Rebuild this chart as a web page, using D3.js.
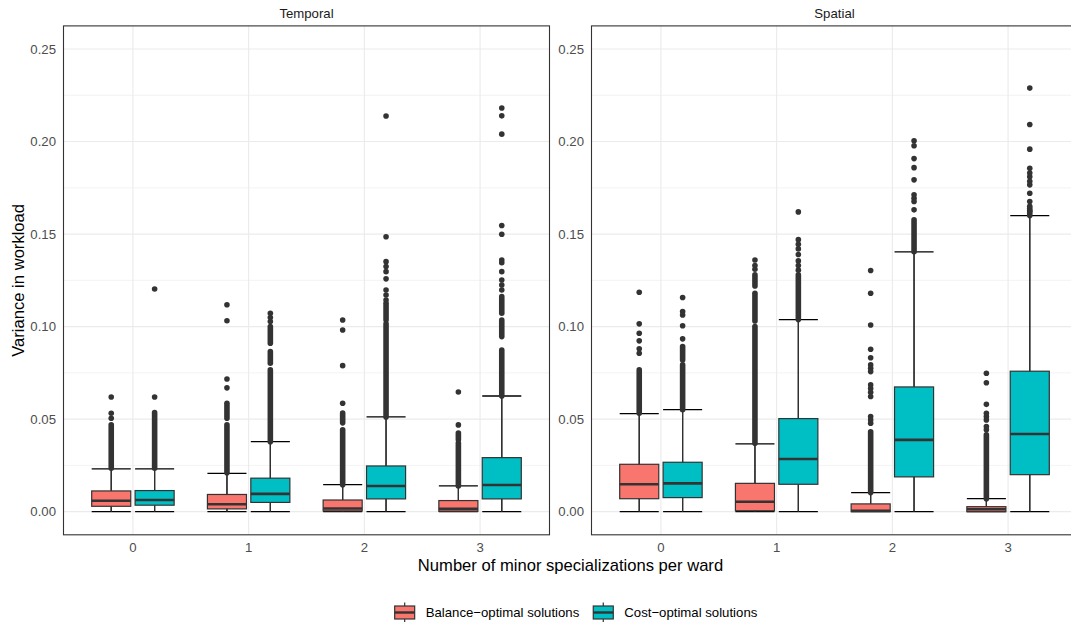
<!DOCTYPE html>
<html>
<head>
<meta charset="utf-8">
<script src="https://cdn.jsdelivr.net/npm/d3@7"></script>
<style>
  body { margin: 0; background: #ffffff; overflow: hidden; }
  text { font-family: "Liberation Sans", Arial, sans-serif; }
</style>
</head>
<body>
<div id="container"></div>
<script>
/* CONSTANTS AND GLOBALS */
const width = 1071;
const height = 622;

const facets = ["Temporal", "Spatial"];
const categories = ["0", "1", "2", "3"];
const seriesNames = ["Balance\u2212optimal solutions", "Cost\u2212optimal solutions"];
const seriesColors = ["#F8766D", "#00BFC4"];
const yTicks = [0, 0.05, 0.10, 0.15, 0.20, 0.25];
const yMinorTicks = [0.025, 0.075, 0.125, 0.175, 0.225];

// box stats per category: [lower whisker, q1, median, q3, upper whisker]
const temporalBalanceBox = [
  [0, 0.0029, 0.0059, 0.0112, 0.0231],
  [0, 0.0015, 0.0040, 0.0093, 0.0207],
  [0, 0.0004, 0.0017, 0.0063, 0.0146],
  [0, 0.0002, 0.0015, 0.0060, 0.0139]
];
const temporalCostBox = [
  [0, 0.0035, 0.0063, 0.0114, 0.0231],
  [0, 0.0050, 0.0096, 0.0181, 0.0378],
  [0, 0.0069, 0.0139, 0.0247, 0.0512],
  [0, 0.0069, 0.0144, 0.0292, 0.0625]
];
const spatialBalanceBox = [
  [0, 0.0070, 0.0148, 0.0256, 0.0530],
  [0, 0.0005, 0.0054, 0.0153, 0.0366],
  [0, 0.0000, 0.0005, 0.0042, 0.0103],
  [0, 0.0000, 0.0013, 0.0027, 0.0070]
];
const spatialCostBox = [
  [0, 0.0076, 0.0153, 0.0267, 0.0551],
  [0, 0.0148, 0.0285, 0.0503, 0.1038],
  [0, 0.0188, 0.0388, 0.0674, 0.1404],
  [0, 0.0200, 0.0420, 0.0759, 0.1600]
];

// single outliers per category
const temporalBalancePts = [
  [0.0620, 0.0532, 0.0505],
  [0.1118, 0.1032, 0.0717, 0.0669],
  [0.1036, 0.0982, 0.0789, 0.0586],
  [0.0647, 0.0469]
];
const temporalCostPts = [
  [0.1203, 0.0620],
  [0.1072, 0.1049, 0.1027],
  [0.2138, 0.1486, 0.1351, 0.1325, 0.1297, 0.1258, 0.1198, 0.1171, 0.1144],
  [0.2181, 0.2139, 0.2040, 0.1546, 0.1499, 0.1360, 0.1345, 0.1297, 0.1252, 0.1225, 0.1198]
];
const spatialBalancePts = [
  [0.1186, 0.1015, 0.0964, 0.0923, 0.0880, 0.0856],
  [0.1360, 0.1330, 0.1310],
  [0.1303, 0.1180, 0.1009, 0.0878, 0.0832, 0.0793, 0.0775, 0.0757, 0.0685, 0.0665, 0.0645, 0.0622, 0.0514, 0.0496, 0.0478],
  [0.0748, 0.0697, 0.0580, 0.0532, 0.0514, 0.0496, 0.0460, 0.0442]
];
const spatialCostPts = [
  [0.1157, 0.1081, 0.1063, 0.1005, 0.0934],
  [0.1620, 0.1470, 0.1445, 0.1420, 0.1390, 0.1355, 0.1330, 0.1305],
  [0.2004, 0.1977, 0.1908, 0.1859, 0.1793, 0.1712, 0.1694, 0.1676, 0.1631],
  [0.2289, 0.2092, 0.1959, 0.1856, 0.1830, 0.1810, 0.1785, 0.1766, 0.1721, 0.1676, 0.1650, 0.1625]
];

// dense stacks of outliers, as [from, to] runs per category
const temporalBalanceRuns = [
  [[0.0235, 0.0470]],
  [[0.0505, 0.0586], [0.0210, 0.0469]],
  [[0.0480, 0.0533], [0.0146, 0.0442]],
  [[0.0388, 0.0425], [0.0139, 0.0371]]
];
const temporalCostRuns = [
  [[0.0235, 0.0535]],
  [[0.0910, 0.1000], [0.0802, 0.0865], [0.0378, 0.0766]],
  [[0.1036, 0.1126], [0.0512, 0.1015]],
  [[0.1072, 0.1162], [0.0946, 0.1036], [0.0625, 0.0874]]
];
const spatialBalanceRuns = [
  [[0.0532, 0.0766]],
  [[0.1220, 0.1280], [0.1030, 0.1180], [0.0370, 0.1000]],
  [[0.0103, 0.0432]],
  [[0.0070, 0.0415]]
];
const spatialCostRuns = [
  [[0.0820, 0.0892], [0.0551, 0.0793]],
  [[0.1038, 0.1280]],
  [[0.1404, 0.1577]],
  [[0.1600, 0.1640]]
];

const panels = [
  { facet: facets[0], series: [
    { box: temporalBalanceBox, pts: temporalBalancePts, runs: temporalBalanceRuns },
    { box: temporalCostBox, pts: temporalCostPts, runs: temporalCostRuns } ] },
  { facet: facets[1], series: [
    { box: spatialBalanceBox, pts: spatialBalancePts, runs: spatialBalanceRuns },
    { box: spatialCostBox, pts: spatialCostPts, runs: spatialCostRuns } ] }
];

const panelLeft = [63.5, 591.5];
const panelWidth = 486;
const panelTop = 25.9;
const panelBottom = 534.8;
const dotR = 2.8;
const ink = "#333333";
const tickSize = 13.2;
const titleSize = 16.6;

/* SCALES */
const yScale = d3.scaleLinear()
  .domain([-0.0125, 0.2625])
  .range([panelBottom, panelTop]);

const fmt = d3.format(".2f");

/* HTML ELEMENTS */
const svg = d3.select("#container")
  .append("svg")
  .attr("width", width)
  .attr("height", height);

svg.append("rect")
  .attr("width", width)
  .attr("height", height)
  .attr("fill", "#ffffff");

panels.forEach((p, pi) => {
  const x0 = panelLeft[pi];
  const xScale = d3.scalePoint()
    .domain(categories)
    .range([x0, x0 + panelWidth])
    .padding(0.6);
  const step = xScale.step();
  const boxW = 0.3375 * step;
  const dodge = [-0.1875 * step, 0.1875 * step];

  const g = svg.append("g");

  // minor grid
  g.selectAll(".minor")
    .data(yMinorTicks)
    .join("line")
    .attr("x1", x0).attr("x2", x0 + panelWidth)
    .attr("y1", d => yScale(d)).attr("y2", d => yScale(d))
    .attr("stroke", "#EBEBEB").attr("stroke-width", 0.6);

  // major grid
  g.selectAll(".major")
    .data(yTicks)
    .join("line")
    .attr("x1", x0).attr("x2", x0 + panelWidth)
    .attr("y1", d => yScale(d)).attr("y2", d => yScale(d))
    .attr("stroke", "#EBEBEB").attr("stroke-width", 1.1);

  g.selectAll(".vgrid")
    .data(categories)
    .join("line")
    .attr("x1", d => xScale(d)).attr("x2", d => xScale(d))
    .attr("y1", panelTop).attr("y2", panelBottom)
    .attr("stroke", "#EBEBEB").attr("stroke-width", 1.1);

  // boxes
  p.series.forEach((s, si) => {
    const rows = categories.map((c, ci) => ({
      cx: xScale(c) + dodge[si],
      stats: s.box[ci],
      pts: s.pts[ci],
      runs: s.runs[ci]
    }));

    const bg = g.append("g");

    // errorbar caps
    rows.forEach(r => {
      bg.append("line")
        .attr("x1", r.cx).attr("x2", r.cx)
        .attr("y1", yScale(r.stats[0])).attr("y2", yScale(r.stats[4]))
        .attr("stroke", "#000").attr("stroke-width", 1.2);
      [r.stats[0], r.stats[4]].forEach(v => {
        bg.append("line")
          .attr("x1", r.cx - boxW / 2).attr("x2", r.cx + boxW / 2)
          .attr("y1", yScale(v)).attr("y2", yScale(v))
          .attr("stroke", "#000").attr("stroke-width", 1.3);
      });
    });

    // outliers
    rows.forEach(r => {
      bg.selectAll(null)
        .data(r.runs)
        .join("line")
        .attr("x1", r.cx).attr("x2", r.cx)
        .attr("y1", d => yScale(d[0])).attr("y2", d => yScale(d[1]))
        .attr("stroke", ink)
        .attr("stroke-width", dotR * 2)
        .attr("stroke-linecap", "round");
      bg.selectAll(null)
        .data(r.pts)
        .join("circle")
        .attr("cx", r.cx)
        .attr("cy", d => yScale(d))
        .attr("r", dotR)
        .attr("fill", ink);
    });

    // whiskers
    bg.selectAll(null)
      .data(rows)
      .join("line")
      .attr("x1", d => d.cx).attr("x2", d => d.cx)
      .attr("y1", d => yScale(d.stats[0])).attr("y2", d => yScale(d.stats[4]))
      .attr("stroke", ink).attr("stroke-width", 1.2);

    // box
    bg.selectAll(null)
      .data(rows)
      .join("rect")
      .attr("x", d => d.cx - boxW / 2)
      .attr("width", boxW)
      .attr("y", d => yScale(d.stats[3]))
      .attr("height", d => Math.max(0.5, yScale(d.stats[1]) - yScale(d.stats[3])))
      .attr("fill", seriesColors[si])
      .attr("stroke", ink)
      .attr("stroke-width", 1.2);

    // median
    bg.selectAll(null)
      .data(rows)
      .join("line")
      .attr("x1", d => d.cx - boxW / 2).attr("x2", d => d.cx + boxW / 2)
      .attr("y1", d => yScale(d.stats[2])).attr("y2", d => yScale(d.stats[2]))
      .attr("stroke", ink).attr("stroke-width", 2.6);
  });

  // panel border
  g.append("rect")
    .attr("x", x0).attr("y", panelTop)
    .attr("width", panelWidth).attr("height", panelBottom - panelTop)
    .attr("fill", "none")
    .attr("stroke", ink)
    .attr("stroke-width", 1.1);

  // y-axis
  g.selectAll(".ytick")
    .data(yTicks)
    .join("text")
    .attr("x", x0 - 7.5)
    .attr("y", d => yScale(d))
    .attr("dy", "0.35em")
    .attr("text-anchor", "end")
    .attr("font-size", tickSize)
    .attr("fill", "#4D4D4D")
    .text(d => fmt(d));

  // x-axis
  g.selectAll(".xtick")
    .data(categories)
    .join("text")
    .attr("x", d => xScale(d))
    .attr("y", 551.5)
    .attr("text-anchor", "middle")
    .attr("font-size", tickSize)
    .attr("fill", "#4D4D4D")
    .text(d => d);

  // strip label
  g.append("text")
    .attr("x", x0 + panelWidth / 2)
    .attr("y", 18)
    .attr("text-anchor", "middle")
    .attr("font-size", tickSize)
    .attr("fill", "#1A1A1A")
    .text(p.facet);
});

// x-axis label
svg.append("text")
  .attr("x", (panelLeft[0] + panelLeft[1] + panelWidth) / 2)
  .attr("y", 571)
  .attr("text-anchor", "middle")
  .attr("font-size", titleSize)
  .attr("fill", "#000")
  .text("Number of minor specializations per ward");

// y-axis label
svg.append("text")
  .attr("transform", "rotate(-90)")
  .attr("x", -(panelTop + panelBottom) / 2)
  .attr("y", 23.5)
  .attr("text-anchor", "middle")
  .attr("font-size", titleSize)
  .attr("fill", "#000")
  .text("Variance in workload");

// legend
const legend = svg.append("g");
let lx = 0;
seriesNames.forEach((name, i) => {
  const item = legend.append("g").attr("transform", `translate(${lx},0)`);
  item.append("line")
    .attr("x1", 10).attr("x2", 10)
    .attr("y1", 602.5).attr("y2", 622)
    .attr("stroke", ink).attr("stroke-width", 1.2);
  item.append("rect")
    .attr("x", 0).attr("y", 606)
    .attr("width", 20).attr("height", 13)
    .attr("fill", seriesColors[i])
    .attr("stroke", ink).attr("stroke-width", 1.2);
  item.append("line")
    .attr("x1", 0).attr("x2", 20)
    .attr("y1", 612.5).attr("y2", 612.5)
    .attr("stroke", ink).attr("stroke-width", 2.4);
  const t = item.append("text")
    .attr("x", 31)
    .attr("y", 617)
    .attr("font-size", tickSize)
    .attr("fill", "#000")
    .text(name);
  lx += 31 + t.node().getComputedTextLength() + 14;
});
const legendW = lx - 14;
legend.attr("transform", `translate(${576 - legendW / 2},0)`);
</script>
</body>
</html>
